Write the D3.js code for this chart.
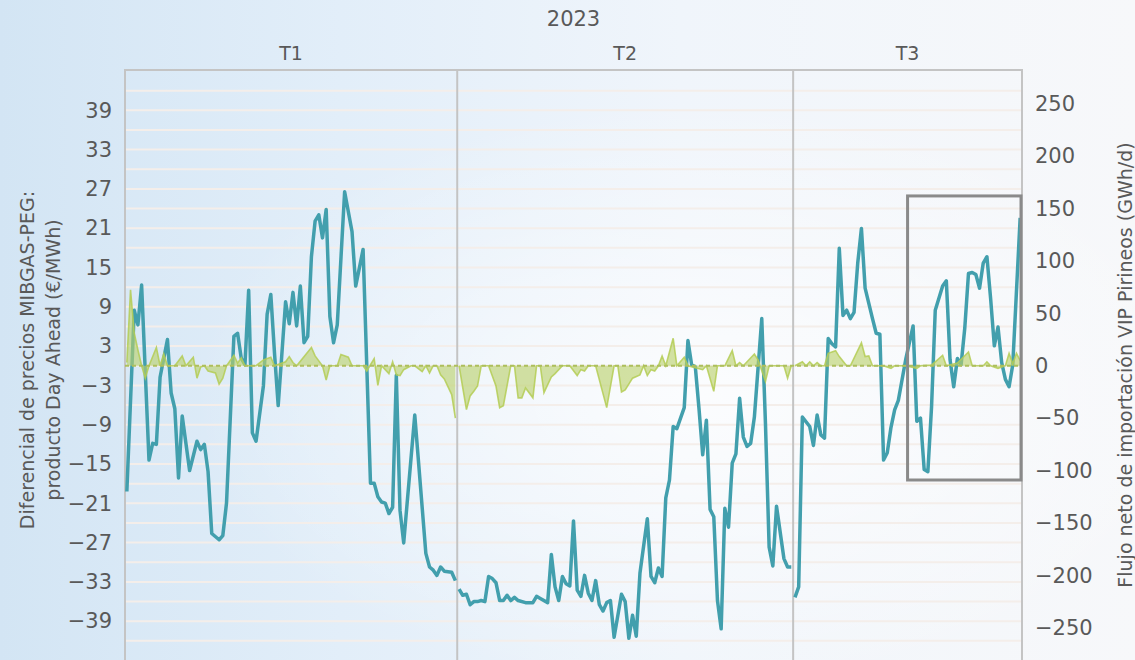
<!DOCTYPE html>
<html>
<head>
<meta charset="utf-8">
<script src="https://cdn.jsdelivr.net/npm/d3@7"></script>
<style>
  body { margin: 0; background: #fff; }
  svg { display: block; }
  text { font-family: "DejaVu Sans", sans-serif; fill: #595959; }
</style>
</head>
<body>
<svg id="chart" width="1135" height="660"></svg>
<script>
// flujo neto VIP Pirineos (GWh/d), [día del año desde 1 ene 2023, valor]
const flujoT1 = [[0,-120],[2,53],[3,39],[4,77],[6,-90],[7,-74],[8,-75],[9,-11],[11,25],[12,-26],[13,-41],[14,-107],[15,-48],[17,-100],[19,-72],[20,-80],[21,-75],[22,-101],[23,-160],[25,-166],[26,-162],[27,-131],[29,28],[30,31],[31,7],[32,1],[33,72],[34,-64],[35,-72],[37,-19],[38,49],[39,68],[40,12],[41,-38],[43,61],[44,40],[45,70],[46,38],[47,76],[48,22],[49,28],[50,104],[51,138],[52,144],[53,122],[54,149],[55,47],[56,22],[57,39],[59,166],[61,128],[62,76],[64,111],[66,-112],[67,-112],[68,-125],[69,-130],[70,-131],[71,-141],[72,-135],[73,-9],[74,-138],[75,-169],[78,-47],[81,-179],[82,-192],[83,-195],[84,-200],[85,-192],[86,-196],[88,-197],[89,-205]];
const flujoT2 = [[90,-213],[91,-219],[92,-218],[93,-228],[94,-225],[95,-225],[96,-224],[97,-225],[98,-201],[99,-203],[100,-207],[101,-224],[102,-224],[103,-219],[104,-224],[105,-221],[106,-224],[108,-226],[110,-226],[111,-220],[112,-222],[114,-226],[115,-180],[116,-211],[117,-224],[118,-201],[119,-208],[120,-210],[121,-148],[122,-214],[123,-220],[124,-200],[125,-217],[126,-224],[127,-205],[128,-228],[129,-234],[130,-226],[131,-224],[132,-259],[134,-218],[135,-225],[136,-260],[137,-238],[138,-258],[139,-198],[141,-146],[142,-201],[143,-207],[144,-193],[145,-201],[146,-126],[147,-109],[148,-58],[149,-60],[151,-40],[152,24],[153,1],[154,-1],[155,-41],[156,-85],[157,-52],[158,-137],[159,-144],[160,-224],[161,-251],[162,-136],[163,-154],[164,-93],[165,-84],[166,-31],[167,-68],[168,-77],[169,-74],[170,-49],[172,45],[173,-55],[174,-173],[175,-191],[176,-134],[178,-184],[179,-192],[180,-192]];
const flujoT3 = [[181,-221],[182,-211],[183,-49],[185,-58],[186,-76],[187,-47],[188,-66],[189,-69],[190,26],[191,21],[192,18],[193,112],[194,48],[195,53],[196,45],[197,51],[198,98],[199,131],[200,74],[202,45],[203,31],[204,30],[205,-90],[206,-83],[207,-59],[208,-42],[209,-33],[211,6],[213,38],[214,-53],[215,-50],[216,-99],[217,-101],[218,-39],[219,53],[221,76],[222,81],[223,6],[224,-20],[225,7],[226,1],[227,36],[228,88],[229,89],[230,87],[231,74],[232,98],[233,104],[234,64],[235,19],[236,37],[237,3],[238,-13],[239,-20],[240,1],[242,141]];

// diferencial MIBGAS-PEG day ahead (€/MWh)
const difT1 = [[0,0.5],[1,11.6],[2,5],[3,2.4],[4,0],[5,-1.9],[6,0],[8,2.8],[9,0],[10,1.8],[11,0],[13,0],[15,1.5],[16,0],[18,1.3],[19,-1.9],[20,-0.2],[21,0],[22,-0.8],[24,-1.1],[25,-2.8],[26,-1.9],[27,0],[29,1.6],[30,0.4],[31,1.2],[32,0],[35,0],[37,0.9],[39,1.3],[40,0],[43,0.6],[44,1.4],[45,0.5],[46,0],[50,2.8],[51,1.5],[53,0],[54,-2.2],[55,0],[57,0],[58,1.7],[60,1.3],[61,0],[64,0],[65,-0.8],[67,1.1],[68,-3],[69,0],[71,-1.2],[72,0.6],[73,-1.4],[74,-1.5],[75,-0.6],[77,0],[78,0],[80,-0.9],[81,0],[82,-1.1],[83,0],[84,0],[85,-1.4],[86,-2],[88,-4.4],[89,-8]];
const difT2 = [[90,0],[92,-6.7],[93,-4.6],[94,-3.9],[95,-3.1],[96,0],[98,0],[100,-3.1],[101,-6.4],[102,-6.1],[104,0],[105,0],[106,-4.9],[107,-4.9],[108,-3.4],[110,-4.9],[111,0],[112,0],[113,-4.1],[115,-1.7],[116,-1.2],[118,0],[120,0],[122,-1.5],[123,-0.6],[124,-0.8],[125,0],[127,0],[130,-6.4],[132,0],[133,0],[134,-4],[135,-3.7],[137,-1.9],[139,-1.4],[140,0],[141,-1.5],[142,-0.6],[143,-0.8],[144,0],[145,1.5],[146,0],[148,4.2],[149,0],[151,1.3],[152,0],[156,-0.6],[157,0],[159,-3.9],[160,0],[162,0],[164,2.3],[165,0],[166,0.5],[167,0],[170,1.8],[171,0.9],[173,-2.4],[174,0],[178,0],[179,-1.9],[180,0]];
const difT3 = [[181,0],[183,0.6],[184,0],[185,0.6],[186,0],[187,0.5],[188,0],[189,0],[190,1.9],[192,2.3],[193,1.4],[195,0],[196,0],[199,3.5],[200,1.4],[201,1.5],[202,0],[205,0],[207,-0.4],[208,0],[211,0],[214,-0.4],[215,0],[218,0.1],[221,1.6],[222,0],[225,0.4],[228,2.1],[229,0],[232,0],[233,0.6],[234,0],[236,-0.4],[238,0],[239,1.9],[240,0.3],[241,1.9],[242,0.8]];

const trimestres = ["T1", "T2", "T3"];
const limitesTrim = ["2023-01-01", "2023-04-01", "2023-07-01", "2023-09-01"];
const anio = "2023";
const ticksIzq = d3.range(-39, 40, 6);
const ticksDer = d3.range(-250, 251, 50);
const recuadro = { desde: "2023-08-01", hasta: "2023-09-01", max: 162, min: -109 };

const svg = d3.select("#chart");
const width = +svg.attr("width");
const height = +svg.attr("height");
const plot = { left: 125, right: 1022, top: 71, bottom: 660.5 };

const parse = d3.utcParse("%Y-%m-%d");
const t0 = parse(limitesTrim[0]);
const dia = d => d3.utcHour.offset(d3.utcDay.offset(t0, d), 12);

const x = d3.scaleUtc()
  .domain([t0, parse(limitesTrim[3])])
  .range([plot.left, plot.right]);
const yL = d3.scaleLinear().domain([-45, 45]).range([plot.bottom, plot.top]);
const yR = d3.scaleLinear().domain([-281.2, 281.2]).range([plot.bottom, plot.top]);

// fondo degradado
const defs = svg.append("defs");
const lg = defs.append("linearGradient").attr("id", "bg").attr("x1", 0).attr("x2", 1).attr("y1", 0).attr("y2", 0);
[[0, "#d3e5f4"], [0.3, "#e2eef9"], [0.6, "#f0f5fb"], [1, "#f7f8fa"]]
  .forEach(([o, c]) => lg.append("stop").attr("offset", o).attr("stop-color", c));
const rg = defs.append("radialGradient").attr("id", "glow").attr("cx", 0.62).attr("cy", 0.6).attr("r", 0.45);
rg.append("stop").attr("offset", 0).attr("stop-color", "#fff").attr("stop-opacity", 0.75);
rg.append("stop").attr("offset", 1).attr("stop-color", "#fff").attr("stop-opacity", 0);

svg.append("rect").attr("width", width).attr("height", height).attr("fill", "url(#bg)");
svg.append("rect").attr("width", width).attr("height", height).attr("fill", "url(#glow)");

// rejilla
svg.append("g")
  .selectAll("line")
  .data(d3.range(-42, 43, 3))
  .join("line")
    .attr("x1", plot.left).attr("x2", plot.right)
    .attr("y1", d => yL(d)).attr("y2", d => yL(d))
    .attr("stroke", "#f4eeea")
    .attr("stroke-width", 2);

// marco y separadores de trimestre
const marco = svg.append("g").attr("stroke", "#c4c4c4").attr("stroke-width", 2);
marco.append("line")
  .attr("x1", plot.left - 1).attr("x2", plot.right + 1)
  .attr("y1", plot.top - 1).attr("y2", plot.top - 1);
marco.selectAll("line.sep")
  .data(limitesTrim)
  .join("line")
    .attr("class", "sep")
    .attr("x1", d => x(parse(d))).attr("x2", d => x(parse(d)))
    .attr("y1", plot.top - 1).attr("y2", height);

// flujo (eje derecho)
const linea = d3.line().x(d => x(dia(d[0]))).y(d => yR(d[1]));
svg.append("g")
  .selectAll("path")
  .data([flujoT1, flujoT2, flujoT3])
  .join("path")
    .attr("d", linea)
    .attr("fill", "none")
    .attr("stroke", "#429fad")
    .attr("stroke-width", 3.5)
    .attr("stroke-linejoin", "round");

// diferencial de precios (eje izquierdo)
const area = d3.area().x(d => x(dia(d[0]))).y0(yL(0)).y1(d => yL(d[1]));
const borde = d3.line().x(d => x(dia(d[0]))).y(d => yL(d[1]));
const gDif = svg.append("g");
gDif.selectAll("path.area")
  .data([difT1, difT2, difT3])
  .join("path")
    .attr("class", "area")
    .attr("d", area)
    .attr("fill", "#b9d16a")
    .attr("fill-opacity", 0.62);
gDif.selectAll("path.borde")
  .data([difT1, difT2, difT3])
  .join("path")
    .attr("class", "borde")
    .attr("d", borde)
    .attr("fill", "none")
    .attr("stroke", "#b4cc55")
    .attr("stroke-opacity", 0.85)
    .attr("stroke-width", 1.6);
gDif.append("line")
  .attr("x1", plot.left).attr("x2", plot.right)
  .attr("y1", yL(0)).attr("y2", yL(0))
  .attr("stroke", "#adbf5c")
  .attr("stroke-width", 2)
  .attr("stroke-dasharray", "4,3");

// recuadro destacado
svg.append("rect")
  .attr("x", x(parse(recuadro.desde)))
  .attr("y", yR(recuadro.max))
  .attr("width", x(parse(recuadro.hasta)) - x(parse(recuadro.desde)) - 1)
  .attr("height", yR(recuadro.min) - yR(recuadro.max))
  .attr("fill", "none")
  .attr("stroke", "#8a8a8a")
  .attr("stroke-width", 3);

// ejes
const ejeIzq = svg.append("g")
  .attr("transform", `translate(${plot.left},0)`)
  .call(d3.axisLeft(yL).tickValues(ticksIzq).tickSize(0).tickPadding(13));
const ejeDer = svg.append("g")
  .attr("transform", `translate(${plot.right},0)`)
  .call(d3.axisRight(yR).tickValues(ticksDer).tickSize(0).tickPadding(13));
[ejeIzq, ejeDer].forEach(g => {
  g.select(".domain").remove();
  g.attr("font-family", null).attr("font-size", null);
  g.selectAll("text").attr("font-size", 21).attr("fill", "#595959");
});

// cabecera
svg.append("text")
  .attr("x", (plot.left + plot.right) / 2)
  .attr("y", 26)
  .attr("text-anchor", "middle")
  .attr("font-size", 21)
  .text(anio);
svg.append("g")
  .selectAll("text")
  .data(trimestres)
  .join("text")
    .attr("x", (d, i) => (x(parse(limitesTrim[i])) + x(parse(limitesTrim[i + 1]))) / 2)
    .attr("y", 60)
    .attr("text-anchor", "middle")
    .attr("font-size", 19)
    .text(d => d);

// títulos de ejes
const tIzq = svg.append("text")
  .attr("transform", "translate(0,360) rotate(-90)")
  .attr("text-anchor", "middle")
  .attr("font-size", 19);
tIzq.append("tspan").attr("x", 0).attr("y", 34).text("Diferencial de precios MIBGAS-PEG:");
tIzq.append("tspan").attr("x", 0).attr("y", 60).text("producto Day Ahead (€/MWh)");

svg.append("text")
  .attr("transform", "translate(1132,365) rotate(-90)")
  .attr("text-anchor", "middle")
  .attr("font-size", 19)
  .text("Flujo neto de importación VIP Pirineos (GWh/d)");
</script>
</body>
</html>
